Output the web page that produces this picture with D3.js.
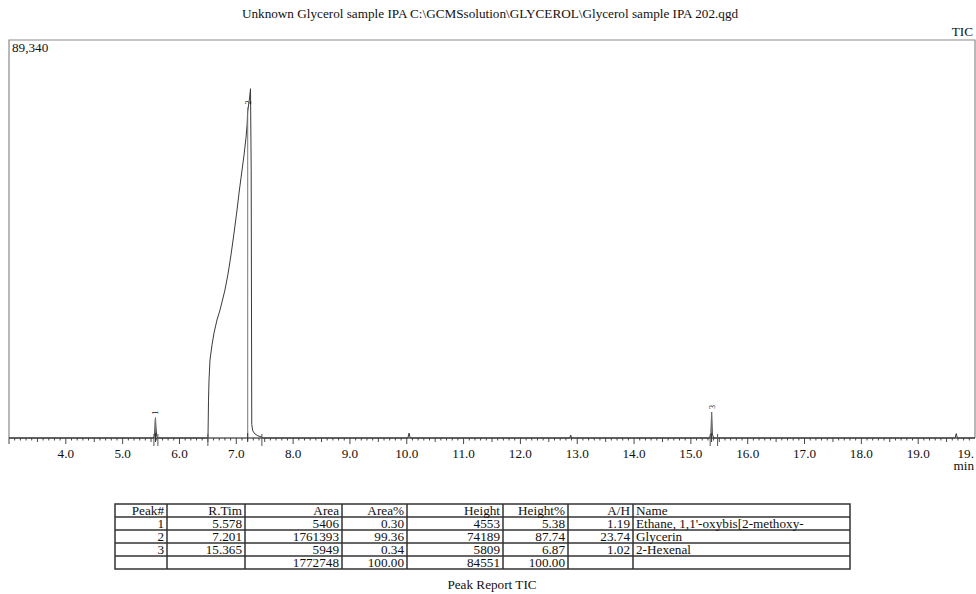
<!DOCTYPE html>
<html><head><meta charset="utf-8">
<script src="https://cdn.jsdelivr.net/npm/d3@7/dist/d3.min.js"></script>
<style>
html,body{margin:0;padding:0;background:#fff;}
text{font-family:"Liberation Serif","Times New Roman",serif;fill:#111;}
</style></head>
<body>
<svg id="c" width="976" height="594"></svg>
<script>
// ---- chromatogram trace (retention time, min / intensity) ----
const times = [3.0, 5.54, 5.562, 5.572, 5.578, 5.586, 5.60, 5.62, 6.495,
  6.502, 6.511, 6.52, 6.537, 6.573, 6.608, 6.66, 6.713, 6.80, 6.854, 6.907, 6.96,
  7.013, 7.048, 7.083, 7.136, 7.17, 7.19, 7.20, 7.233, 7.25, 7.262, 7.272,
  7.29, 7.33, 7.38, 7.45, 7.47, 10.02, 10.04, 10.06, 12.87, 12.885, 12.90,
  15.33, 15.352, 15.365, 15.378, 15.40, 19.65, 19.67, 19.69, 20.0];
const intensity = [0, 0, 600, 3800, 4553, 2500, 300, 0, 0,
  0, 8500, 13000, 17500, 20900, 23600, 26500, 28700, 33200, 36800, 41100, 46000,
  51200, 55000, 58400, 63500, 67300, 70300, 73200, 76300, 78400, 60000, 3000,
  1600, 900, 500, 200, 0, 0, 1100, 0, 0, 650, 0,
  0, 900, 5809, 900, 0, 0, 1000, 0, 0];

// ---- peak table ----
const peakNo = ["1", "2", "3"];
const peakRT = [5.578, 7.201, 15.365];
const peakArea = [5406, 1761393, 5949];
const areaPct = ["0.30", "99.36", "0.34"];
const peakHeight = [4553, 74189, 5809];
const heightPct = ["5.38", "87.74", "6.87"];
const aOverH = ["1.19", "23.74", "1.02"];
const peakName = ["Ethane, 1,1'-oxybis[2-methoxy-", "Glycerin", "2-Hexenal"];
const peakStart = [5.55, 6.50, 15.34];
const peakEnd = [5.62, 7.45, 15.47];
const totalArea = 1772748, totalHeight = 84551;
const tableHeader = ["Peak#", "R.Tim", "Area", "Area%", "Height", "Height%", "A/H", "Name"];

// ---- axis ----
const xTickLabels = ["4.0","5.0","6.0","7.0","8.0","9.0","10.0","11.0","12.0","13.0","14.0","15.0","16.0","17.0","18.0","19.0"];
const yMaxLabel = "89,340";
const yMax = 89340;

const svg = d3.select("#c");
const SX = 1.1, FS = 12;
function txt(x, y, s, anchor, size) {
  return svg.append("text")
    .attr("transform", `translate(${x},${y}) scale(${SX},1)`)
    .attr("text-anchor", anchor || "start")
    .style("font-size", (size || FS) + "px")
    .text(s);
}

const L = 9, R = 975, T = 40, B = 438;
const x = d3.scaleLinear().domain([3, 20]).range([L, R]);
const y = d3.scaleLinear().domain([0, yMax]).range([B, T]);

// title
txt(490, 18, "Unknown Glycerol sample IPA C:\\GCMSsolution\\GLYCEROL\\Glycerol sample IPA 202.qgd", "middle");
txt(973, 36, "TIC", "end");

// frame
svg.append("path").attr("d", `M${L},${B}V${T}H${R}V${B}`)
  .attr("fill", "none").attr("stroke", "#8a8a8a").attr("stroke-width", 1.2);
txt(12, 52, yMaxLabel, "start");

// x axis
const ax = svg.append("g").attr("transform", `translate(0,${B})`);
ax.append("line").attr("x1", L).attr("x2", R).attr("stroke", "#111").attr("stroke-width", 1.2);
const minor = d3.range(30, 200).map(v => v / 10);
ax.selectAll("line.mn").data(minor).join("line")
  .attr("x1", d => x(d)).attr("x2", d => x(d))
  .attr("y1", 0).attr("y2", d => (Math.abs(d - Math.round(d)) < 1e-6) ? 6 : (Math.abs(d*2 - Math.round(d*2)) < 1e-6 ? 4 : 2.5))
  .attr("stroke", "#333").attr("stroke-width", 0.9);
xTickLabels.forEach(s => txt(x(+s), 458, s, "middle"));
txt(974, 458, "19.", "end");
txt(974, 470, "min", "end");

// trace
const line = d3.line().x((d, i) => x(times[i])).y(d => y(d));
svg.append("path").datum(intensity).attr("d", line)
  .attr("fill", "none").attr("stroke", "#3a3a3a").attr("stroke-width", 1);

// peak marker lines and labels
peakRT.forEach((rt, i) => {
  svg.append("line").attr("x1", x(rt)).attr("x2", x(rt))
    .attr("y1", B).attr("y2", y(peakHeight[i]))
    .attr("stroke", "#777").attr("stroke-width", 1);
  svg.append("line").attr("x1", x(rt)).attr("x2", x(rt))
    .attr("y1", B - 5).attr("y2", B + 4).attr("stroke", "#333");
  svg.append("text")
    .attr("transform", `translate(${x(rt) + 3},${y(peakHeight[i]) - 3}) rotate(-90)`)
    .attr("text-anchor", "start").style("font-size", "8px").text(peakNo[i]);
});
peakStart.concat(peakEnd).forEach(t => {
  svg.append("line").attr("x1", x(t)).attr("x2", x(t))
    .attr("y1", B - 4).attr("y2", B + 8).attr("stroke", "#555").attr("stroke-width", 1);
});

// table
const cols = [115, 167, 245, 342, 407, 503, 568, 633, 850];
const rowT = 504, rh = 13, nRows = 5;
const tg = svg.append("g");
tg.append("rect").attr("x", cols[0]).attr("y", rowT).attr("width", cols[8] - cols[0]).attr("height", rh * nRows)
  .attr("fill", "none").attr("stroke", "#333").attr("stroke-width", 1.5);
for (let r = 1; r < nRows; r++)
  tg.append("line").attr("x1", cols[0]).attr("x2", cols[8]).attr("y1", rowT + r * rh).attr("y2", rowT + r * rh)
    .attr("stroke", "#333").attr("stroke-width", 1.5);
cols.slice(1, 8).forEach(c => tg.append("line").attr("x1", c).attr("x2", c).attr("y1", rowT).attr("y2", rowT + rh * nRows)
  .attr("stroke", "#333").attr("stroke-width", 1.5));
function row(r, vals) {
  const yy = rowT + r * rh + 10.5;
  vals.forEach((v, j) => {
    if (v === "") return;
    if (j === 7) txt(cols[7] + 3, yy, v, "start");
    else txt(cols[j + 1] - 3, yy, v, "end");
  });
}
row(0, tableHeader);
peakNo.forEach((p, i) => row(i + 1, [p, peakRT[i].toFixed(3), String(peakArea[i]), areaPct[i],
  String(peakHeight[i]), heightPct[i], aOverH[i], peakName[i]]));
row(4, ["", "", String(totalArea), "100.00", String(totalHeight), "100.00", "", ""]);

txt(492, 589, "Peak Report TIC", "middle");
</script>
</body></html>
